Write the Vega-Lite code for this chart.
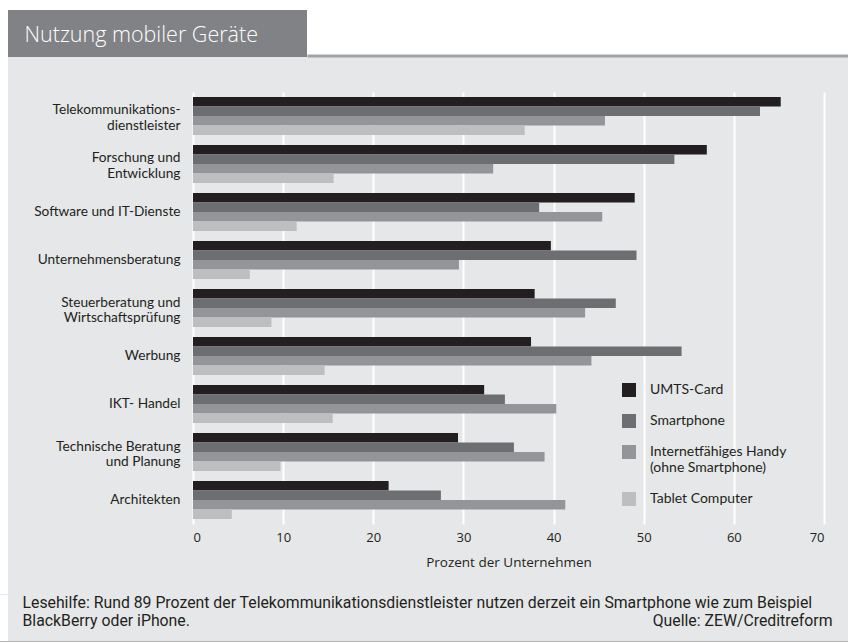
{
  "$schema": "https://vega.github.io/schema/vega-lite/v6.json",
  "background": "#e6e7e8",
  "padding": 0,
  "spacing": 0,
  "config": {
    "view": {"stroke": null},
    "font": "Lato"
  },
  "vconcat": [
    {"width": 848, "height": 10, "data": {"values": []}, "mark": "point", "view": {"fill": "white", "stroke": null}},
    {
      "hconcat": [
        {"width": 8, "height": 47, "data": {"values": []}, "mark": "point", "view": {"fill": "white", "stroke": null}},
        {
          "width": 299, "height": 47,
          "view": {"fill": "#808285", "stroke": null},
          "data": {"values": [{"a": 0}]},
          "mark": {"type": "point", "opacity": 0},
          "encoding": {
            "y": {"field": "a", "type": "quantitative", "axis": {"title": "Nutzung mobiler Geräte", "labels": false, "ticks": false, "domain": false, "grid": false, "titleAngle": 0, "titleAlign": "left", "titleBaseline": "alphabetic", "titleX": 16, "titleY": 31, "titleColor": "white", "titleFont": "Open Sans", "titleFontSize": 21.5, "titleFontWeight": 300}}
          }
        },
        {
          "width": 541, "height": 47,
          "view": {"fill": "white", "stroke": null},
          "data": {"values": [{"a": 0}]},
          "mark": {"type": "point", "opacity": 0},
          "encoding": {
            "x": {"field": "a", "type": "quantitative", "axis": {"title": null, "labels": false, "ticks": false, "grid": false, "domain": true, "domainColor": "#a2a4a7", "domainWidth": 3, "offset": -1.5}}
          }
        }
      ],
      "spacing": 0, "bounds": "flush"
    },
    {"width": 8, "height": 35, "data": {"values": []}, "mark": "point", "view": {"fill": "white", "stroke": null}},
    {
      "hconcat": [
        {"width": 8, "height": 502, "data": {"values": []}, "mark": "point", "view": {"fill": "white", "stroke": null}},
        {
          "width": 631,
          "height": 432,
          "data": {"values": [
            {"branche": "Telekommunikationsdienstleister", "geraet": "UMTS-Card", "wert": 65.2},
            {"branche": "Telekommunikationsdienstleister", "geraet": "Smartphone", "wert": 62.9},
            {"branche": "Telekommunikationsdienstleister", "geraet": "Internetfähiges Handy (ohne Smartphone)", "wert": 45.7},
            {"branche": "Telekommunikationsdienstleister", "geraet": "Tablet Computer", "wert": 36.8},
            {"branche": "Forschung und Entwicklung", "geraet": "UMTS-Card", "wert": 57.0},
            {"branche": "Forschung und Entwicklung", "geraet": "Smartphone", "wert": 53.4},
            {"branche": "Forschung und Entwicklung", "geraet": "Internetfähiges Handy (ohne Smartphone)", "wert": 33.3},
            {"branche": "Forschung und Entwicklung", "geraet": "Tablet Computer", "wert": 15.6},
            {"branche": "Software und IT-Dienste", "geraet": "UMTS-Card", "wert": 49.0},
            {"branche": "Software und IT-Dienste", "geraet": "Smartphone", "wert": 38.4},
            {"branche": "Software und IT-Dienste", "geraet": "Internetfähiges Handy (ohne Smartphone)", "wert": 45.4},
            {"branche": "Software und IT-Dienste", "geraet": "Tablet Computer", "wert": 11.5},
            {"branche": "Unternehmensberatung", "geraet": "UMTS-Card", "wert": 39.7},
            {"branche": "Unternehmensberatung", "geraet": "Smartphone", "wert": 49.2},
            {"branche": "Unternehmensberatung", "geraet": "Internetfähiges Handy (ohne Smartphone)", "wert": 29.5},
            {"branche": "Unternehmensberatung", "geraet": "Tablet Computer", "wert": 6.3},
            {"branche": "Steuerberatung und Wirtschaftsprüfung", "geraet": "UMTS-Card", "wert": 37.9},
            {"branche": "Steuerberatung und Wirtschaftsprüfung", "geraet": "Smartphone", "wert": 46.9},
            {"branche": "Steuerberatung und Wirtschaftsprüfung", "geraet": "Internetfähiges Handy (ohne Smartphone)", "wert": 43.5},
            {"branche": "Steuerberatung und Wirtschaftsprüfung", "geraet": "Tablet Computer", "wert": 8.7},
            {"branche": "Werbung", "geraet": "UMTS-Card", "wert": 37.5},
            {"branche": "Werbung", "geraet": "Smartphone", "wert": 54.2},
            {"branche": "Werbung", "geraet": "Internetfähiges Handy (ohne Smartphone)", "wert": 44.2},
            {"branche": "Werbung", "geraet": "Tablet Computer", "wert": 14.6},
            {"branche": "IKT- Handel", "geraet": "UMTS-Card", "wert": 32.3},
            {"branche": "IKT- Handel", "geraet": "Smartphone", "wert": 34.6},
            {"branche": "IKT- Handel", "geraet": "Internetfähiges Handy (ohne Smartphone)", "wert": 40.3},
            {"branche": "IKT- Handel", "geraet": "Tablet Computer", "wert": 15.5},
            {"branche": "Technische Beratung und Planung", "geraet": "UMTS-Card", "wert": 29.4},
            {"branche": "Technische Beratung und Planung", "geraet": "Smartphone", "wert": 35.6},
            {"branche": "Technische Beratung und Planung", "geraet": "Internetfähiges Handy (ohne Smartphone)", "wert": 39.0},
            {"branche": "Technische Beratung und Planung", "geraet": "Tablet Computer", "wert": 9.7},
            {"branche": "Architekten", "geraet": "UMTS-Card", "wert": 21.7},
            {"branche": "Architekten", "geraet": "Smartphone", "wert": 27.5},
            {"branche": "Architekten", "geraet": "Internetfähiges Handy (ohne Smartphone)", "wert": 41.3},
            {"branche": "Architekten", "geraet": "Tablet Computer", "wert": 4.3}
          ]},
          "mark": {"type": "bar"},
          "encoding": {
            "y": {
              "field": "branche", "type": "nominal",
              "sort": ["Telekommunikationsdienstleister", "Forschung und Entwicklung", "Software und IT-Dienste", "Unternehmensberatung", "Steuerberatung und Wirtschaftsprüfung", "Werbung", "IKT- Handel", "Technische Beratung und Planung", "Architekten"],
              "scale": {"paddingInner": 0.2083, "paddingOuter": 0.104},
              "axis": {
                "title": null, "ticks": false, "domain": false, "labelPadding": 13,
                "labelFont": "Lato", "labelFontSize": 13.7, "labelColor": "#231f20", "labelLineHeight": 15.5, "labelLimit": 300,
                "labelOffset": {"condition": {"test": "datum.value == 'Telekommunikationsdienstleister' || datum.value == 'Forschung und Entwicklung' || datum.value == 'Steuerberatung und Wirtschaftsprüfung' || datum.value == 'Technische Beratung und Planung'", "value": -5.5}, "value": 0},
                "labelExpr": "datum.label == 'Telekommunikationsdienstleister' ? ['Telekommunikations-', 'dienstleister'] : datum.label == 'Forschung und Entwicklung' ? ['Forschung und', 'Entwicklung'] : datum.label == 'Steuerberatung und Wirtschaftsprüfung' ? ['Steuerberatung und', 'Wirtschaftsprüfung'] : datum.label == 'Technische Beratung und Planung' ? ['Technische Beratung', 'und Planung'] : datum.label"
              }
            },
            "yOffset": {
              "field": "geraet", "type": "nominal",
              "sort": ["UMTS-Card", "Smartphone", "Internetfähiges Handy (ohne Smartphone)", "Tablet Computer"],
              "scale": {"paddingInner": 0, "paddingOuter": 0}
            },
            "x": {
              "field": "wert", "type": "quantitative",
              "scale": {"domain": [0, 70], "nice": false},
              "axis": {
                "values": [0, 10, 20, 30, 40, 50, 60, 70],
                "title": "Prozent der Unternehmen",
                "grid": true, "gridColor": "white", "gridWidth": 2, "gridOpacity": 1,
                "domain": false, "ticks": false,
                "labelPadding": 7, "labelFont": "Open Sans", "labelFontSize": 13, "labelColor": "#231f20",
                "titlePadding": 11, "titleFont": "Open Sans", "titleFontSize": 13.5, "titleFontWeight": "normal", "titleColor": "#231f20"
              }
            },
            "color": {
              "field": "geraet", "type": "nominal",
              "sort": ["UMTS-Card", "Smartphone", "Internetfähiges Handy (ohne Smartphone)", "Tablet Computer"],
              "scale": {
                "domain": ["UMTS-Card", "Smartphone", "Internetfähiges Handy (ohne Smartphone)", "Tablet Computer"],
                "range": ["#231f20", "#6d6e71", "#939598", "#bcbec0"]
              },
              "legend": {
                "title": null, "orient": "none", "legendX": 622, "legendY": 383, "padding": 0,
                "symbolType": "square", "symbolSize": 196, "symbolStrokeWidth": 0, "symbolOpacity": 1,
                "labelFont": "Lato", "labelFontSize": 14, "labelColor": "#231f20", "labelOffset": 14, "labelLineHeight": 15.5,
                "rowPadding": 17, "labelLimit": 300,
                "labelExpr": "datum.label == 'Internetfähiges Handy (ohne Smartphone)' ? ['Internetfähiges Handy', '(ohne Smartphone)'] : datum.label"
              }
            }
          }
        }
      ],
      "spacing": 185, "bounds": "flush"
    },
    {
      "hconcat": [
        {"width": 8, "height": 46, "data": {"values": []}, "mark": "point", "view": {"fill": "white", "stroke": null}},
        {
          "width": 810, "height": 20,
          "data": {"values": [{"a": 0}]},
          "mark": {"type": "point", "opacity": 0},
          "encoding": {
            "y": {"field": "a", "type": "quantitative", "axis": {
              "title": ["Lesehilfe: Rund 89 Prozent der Telekommunikationsdienstleister nutzen derzeit ein Smartphone wie zum Beispiel", "BlackBerry oder iPhone."],
              "labels": false, "ticks": false, "domain": false, "grid": false,
              "titleAngle": 0, "titleAlign": "left", "titleBaseline": "top", "titleX": 0, "titleY": 0,
              "titleFont": "Roboto", "titleFontSize": 15.8, "titleFontWeight": "normal", "titleColor": "#231f20", "titleLineHeight": 18.5
            }},
            "x": {"field": "a", "type": "quantitative", "axis": {
              "title": "Quelle: ZEW/Creditreform",
              "labels": false, "ticks": false, "domain": false, "grid": false,
              "titleAlign": "right", "titleBaseline": "top", "titleX": 810, "titleY": -1.5,
              "titleFont": "Roboto", "titleFontSize": 15.8, "titleFontWeight": "normal", "titleColor": "#231f20"
            }}
          }
        }
      ],
      "spacing": 14, "bounds": "flush"
    },
    {"width": 848, "height": 2, "data": {"values": []}, "mark": "point", "view": {"fill": "#b1b3b6", "stroke": null}}
  ]
}
